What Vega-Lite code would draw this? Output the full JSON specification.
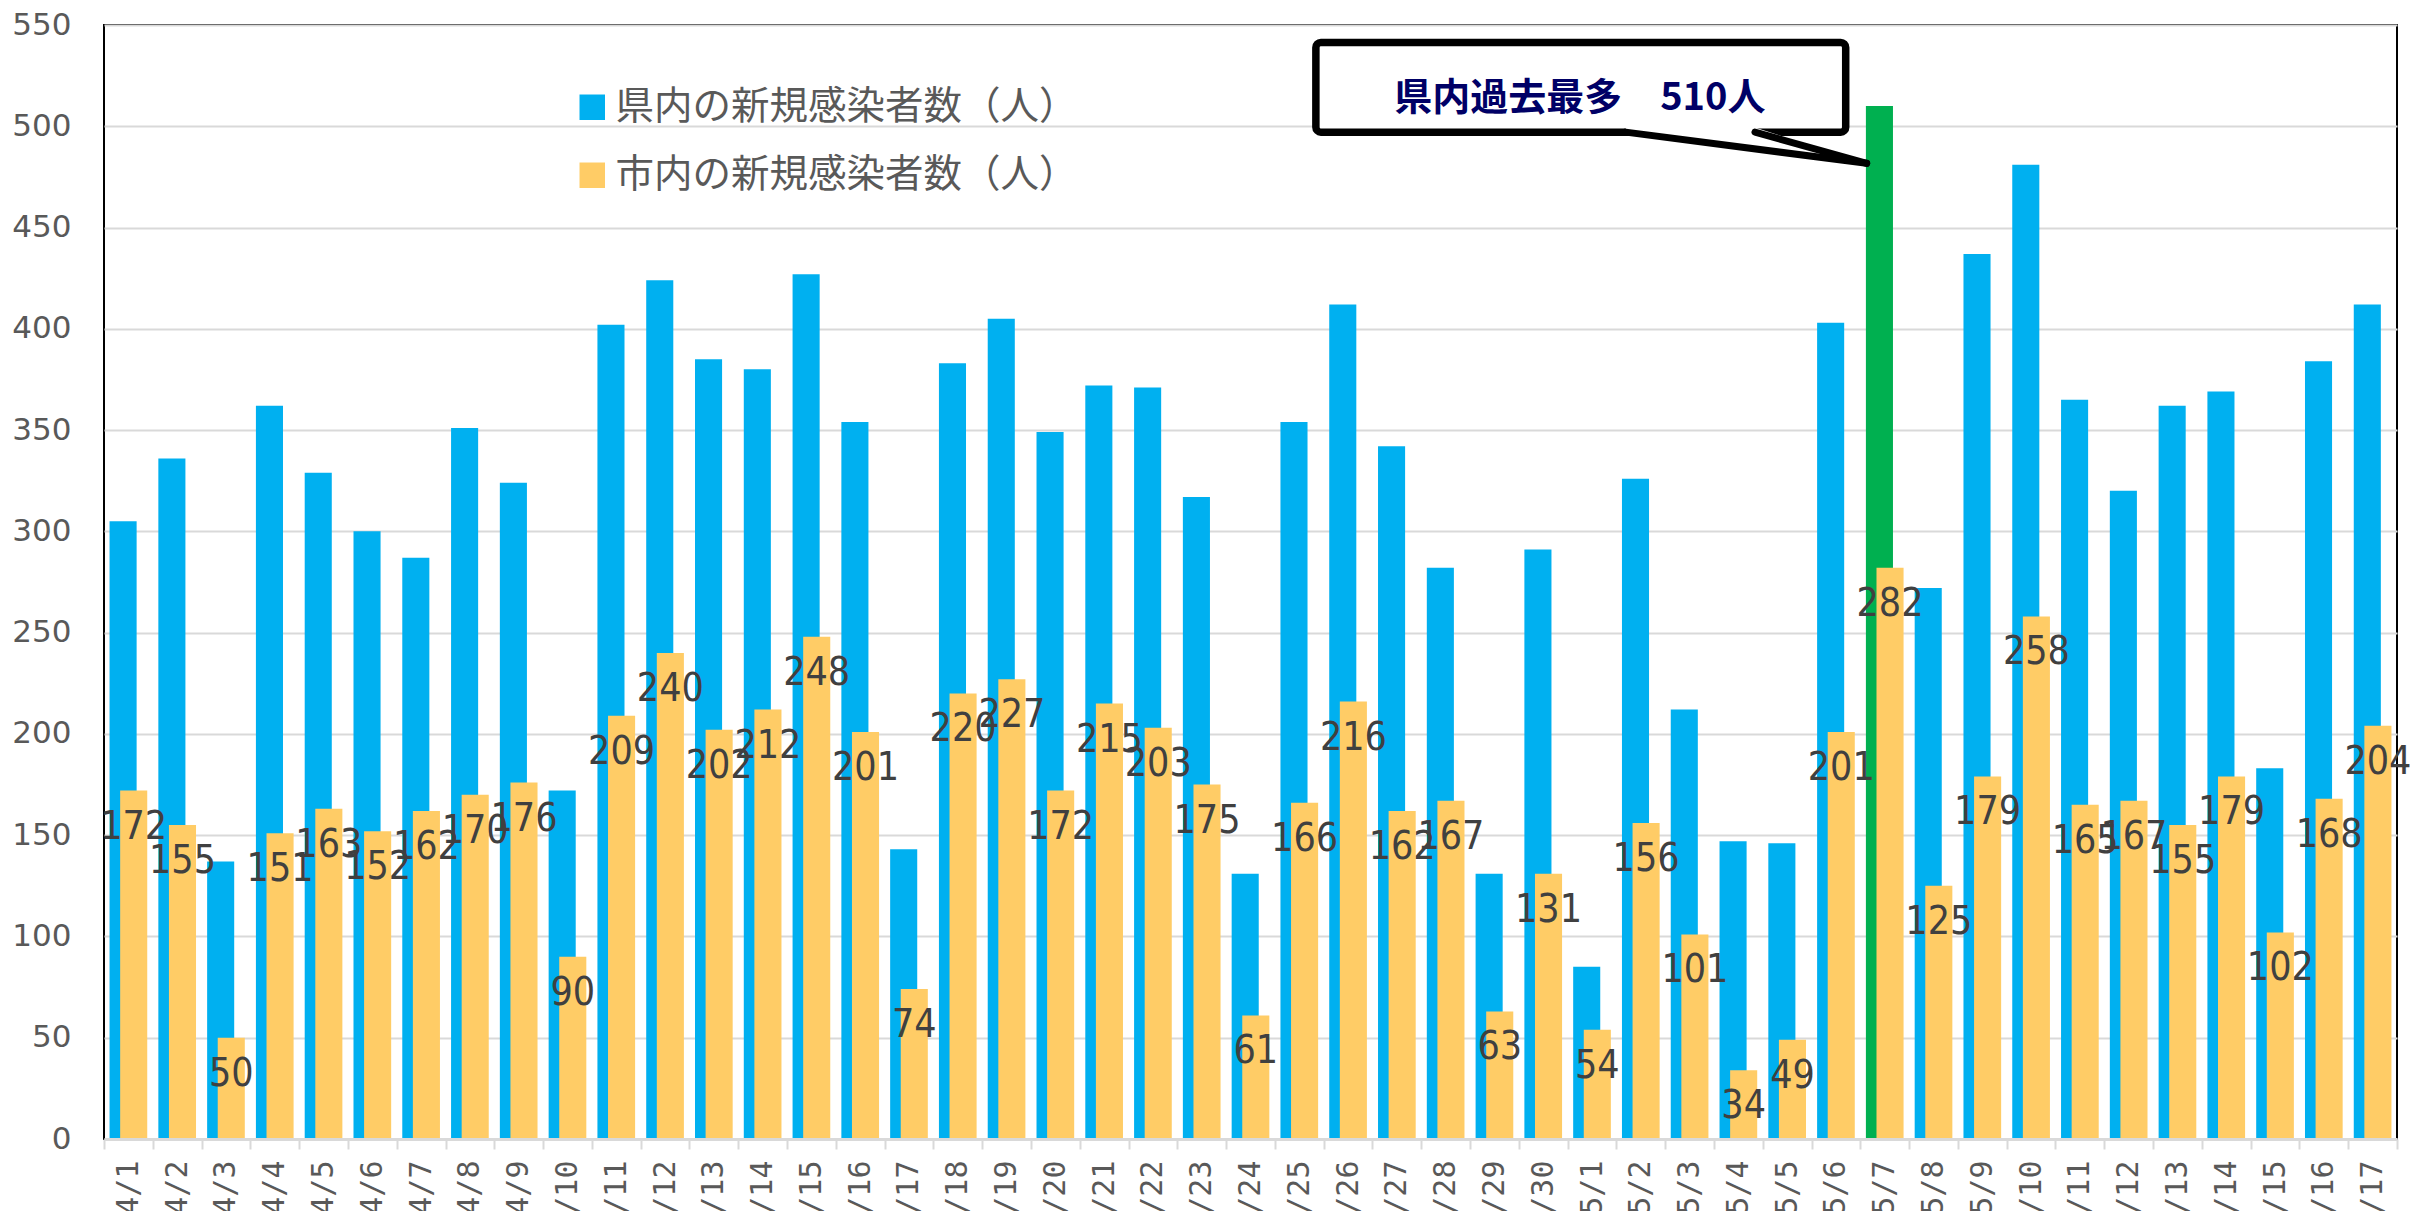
{
  "$schema": "https://vega.github.io/schema/vega-lite/v6.json",
  "autosize": {"type": "none"},
  "width": 2293,
  "height": 1114,
  "padding": {"left": 104, "top": 25, "right": 15, "bottom": 72},
  "background": "white",
  "config": {"view": {"stroke": "#000000", "strokeWidth": 2}},
  "datasets": {
    "covid": [
      {"date": "4/1", "pref": 305, "city": 172},
      {"date": "4/2", "pref": 336, "city": 155},
      {"date": "4/3", "pref": 137, "city": 50},
      {"date": "4/4", "pref": 362, "city": 151},
      {"date": "4/5", "pref": 329, "city": 163},
      {"date": "4/6", "pref": 300, "city": 152},
      {"date": "4/7", "pref": 287, "city": 162},
      {"date": "4/8", "pref": 351, "city": 170},
      {"date": "4/9", "pref": 324, "city": 176},
      {"date": "4/10", "pref": 172, "city": 90},
      {"date": "4/11", "pref": 402, "city": 209},
      {"date": "4/12", "pref": 424, "city": 240},
      {"date": "4/13", "pref": 385, "city": 202},
      {"date": "4/14", "pref": 380, "city": 212},
      {"date": "4/15", "pref": 427, "city": 248},
      {"date": "4/16", "pref": 354, "city": 201},
      {"date": "4/17", "pref": 143, "city": 74},
      {"date": "4/18", "pref": 383, "city": 220},
      {"date": "4/19", "pref": 405, "city": 227},
      {"date": "4/20", "pref": 349, "city": 172},
      {"date": "4/21", "pref": 372, "city": 215},
      {"date": "4/22", "pref": 371, "city": 203},
      {"date": "4/23", "pref": 317, "city": 175},
      {"date": "4/24", "pref": 131, "city": 61},
      {"date": "4/25", "pref": 354, "city": 166},
      {"date": "4/26", "pref": 412, "city": 216},
      {"date": "4/27", "pref": 342, "city": 162},
      {"date": "4/28", "pref": 282, "city": 167},
      {"date": "4/29", "pref": 131, "city": 63},
      {"date": "4/30", "pref": 291, "city": 131},
      {"date": "5/1", "pref": 85, "city": 54},
      {"date": "5/2", "pref": 326, "city": 156},
      {"date": "5/3", "pref": 212, "city": 101},
      {"date": "5/4", "pref": 147, "city": 34},
      {"date": "5/5", "pref": 146, "city": 49},
      {"date": "5/6", "pref": 403, "city": 201},
      {"date": "5/7", "pref": 510, "city": 282},
      {"date": "5/8", "pref": 272, "city": 125},
      {"date": "5/9", "pref": 437, "city": 179},
      {"date": "5/10", "pref": 481, "city": 258},
      {"date": "5/11", "pref": 365, "city": 165},
      {"date": "5/12", "pref": 320, "city": 167},
      {"date": "5/13", "pref": 362, "city": 155},
      {"date": "5/14", "pref": 369, "city": 179},
      {"date": "5/15", "pref": 183, "city": 102},
      {"date": "5/16", "pref": 384, "city": 168},
      {"date": "5/17", "pref": 412, "city": 204}
    ]
  },
  "layer": [
    {
      "data": {"name": "covid"},
      "layer": [
        {
          "mark": {"type": "bar", "width": {"band": 0.555}, "xOffset": -5.3},
          "encoding": {
            "x": {
              "field": "date", "type": "nominal", "sort": null,
              "scale": {"paddingInner": 0, "paddingOuter": 0},
              "axis": {
                "title": null, "labelAngle": -90, "labelFont": "DejaVu Sans Mono", "labelFontSize": 30,
                "labelColor": "#595959", "labelPadding": 11, "tickBand": "extent", "tickSize": 10,
                "tickColor": "#D9D9D9", "tickWidth": 2, "domainColor": "#D9D9D9", "domainWidth": 3,
                "grid": false, "labelOverlap": false, "zindex": 1
              }
            },
            "y": {
              "field": "pref", "type": "quantitative",
              "scale": {"domain": [0, 550], "nice": false},
              "axis": {
                "title": null, "values": [0, 50, 100, 150, 200, 250, 300, 350, 400, 450, 500, 550],
                "labelFont": "DejaVu Sans", "labelFontSize": 31, "labelColor": "#595959", "labelPadding": 33,
                "ticks": false, "domain": false, "grid": true, "gridColor": "#D9D9D9", "gridWidth": 2
              }
            },
            "color": {
              "datum": "県内の新規感染者数（人）", "type": "nominal",
              "condition": {"test": "datum.date === '5/7'", "value": "#00B050"},
              "scale": {"domain": ["県内の新規感染者数（人）", "市内の新規感染者数（人）"], "range": ["#00B0F0", "#FFCC66"]},
              "legend": {
                "orient": "none", "legendX": 469, "legendY": 63, "title": null, "direction": "vertical",
                "symbolType": "square", "symbolSize": 650, "symbolStrokeWidth": 0,
                "labelFont": "Noto Sans CJK JP", "labelFontSize": 38.5, "labelColor": "#595959",
                "labelOffset": 4, "rowPadding": 29, "labelLimit": 1000, "padding": 0
              }
            }
          }
        },
        {
          "mark": {"type": "bar", "width": {"band": 0.555}, "xOffset": 5.3},
          "encoding": {
            "x": {"field": "date", "type": "nominal", "sort": null},
            "y": {"field": "city", "type": "quantitative", "title": null},
            "color": {"datum": "市内の新規感染者数（人）", "type": "nominal"}
          }
        },
        {
          "mark": {"type": "text", "xOffset": 5.3, "dy": 36, "align": "center", "baseline": "middle",
                   "font": "DejaVu Sans Condensed, Liberation Sans", "fontSize": 39, "color": "#404040"},
          "encoding": {
            "x": {"field": "date", "type": "nominal", "sort": null},
            "y": {"field": "city", "type": "quantitative", "title": null},
            "text": {"field": "city", "type": "quantitative"}
          }
        }
      ]
    },
    {
      "layer": [
        {
          "data": {"values": [{"a": 24.84, "b": 35.70, "top": 541.4, "bottom": 497.1}]},
          "mark": {"type": "rect", "fill": "white", "stroke": "black", "strokeWidth": 7.5, "cornerRadius": 5},
          "encoding": {
            "x": {"field": "a", "type": "quantitative", "scale": {"domain": [0, 47], "nice": false, "zero": false}, "axis": null},
            "x2": {"field": "b"},
            "y": {"field": "top", "type": "quantitative", "title": null},
            "y2": {"field": "bottom"}
          }
        },
        {
          "data": {"values": [
            {"a": 31.19, "t": 499.4, "b": 497.1},
            {"a": 33.84, "t": 499.4, "b": 488.8},
            {"a": 36.13, "t": 481.7, "b": 481.7}
          ]},
          "mark": {"type": "area", "orient": "vertical", "fill": "white", "opacity": 1},
          "encoding": {
            "x": {"field": "a", "type": "quantitative"},
            "y": {"field": "t", "type": "quantitative", "title": null},
            "y2": {"field": "b"}
          }
        },
        {
          "data": {"values": [
            {"a": 31.19, "p": 497.1, "a2": 36.13, "p2": 481.7},
            {"a": 33.84, "p": 497.1, "a2": 36.13, "p2": 481.7}
          ]},
          "mark": {"type": "rule", "stroke": "black", "strokeWidth": 7, "strokeCap": "round"},
          "encoding": {
            "x": {"field": "a", "type": "quantitative"},
            "x2": {"field": "a2"},
            "y": {"field": "p", "type": "quantitative", "title": null},
            "y2": {"field": "p2"}
          }
        },
        {
          "data": {"values": [{"a": 30.25, "v": 513.6, "t": "県内過去最多　510人"}]},
          "mark": {"type": "text", "font": "Noto Sans CJK JP", "fontWeight": "bold", "fontSize": 38,
                   "color": "#000066", "align": "center", "baseline": "middle"},
          "encoding": {
            "x": {"field": "a", "type": "quantitative"},
            "y": {"field": "v", "type": "quantitative", "title": null},
            "text": {"field": "t"}
          }
        }
      ]
    }
  ],
  "resolve": {"scale": {"x": "independent"}, "axis": {"x": "independent"}}
}
